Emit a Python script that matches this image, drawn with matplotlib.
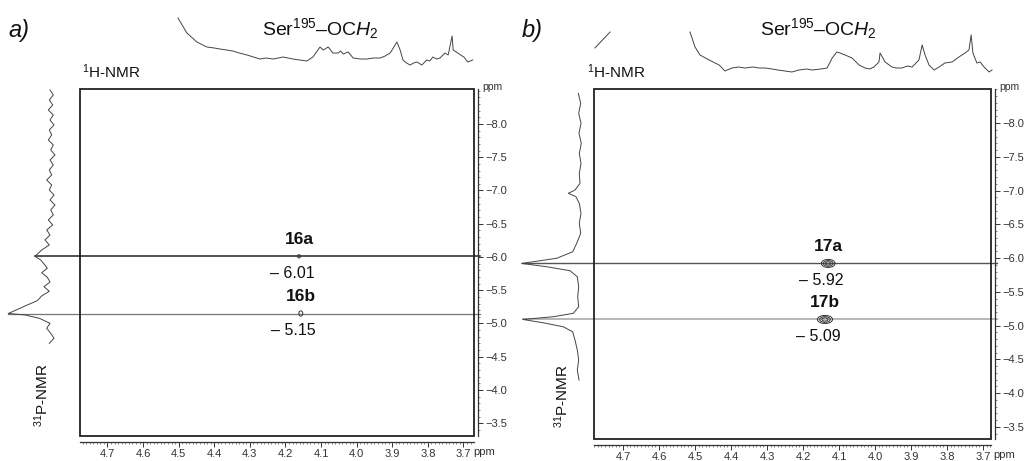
import matplotlib
matplotlib.use('Agg')
import matplotlib.pyplot as plt
from matplotlib.patches import Rectangle, Ellipse
from matplotlib.ticker import MultipleLocator, FormatStrFormatter, FuncFormatter

plt.rcParams['font.family'] = ['Liberation Sans', 'DejaVu Sans']
plt.rcParams['mathtext.fontset'] = 'custom'
plt.rcParams['mathtext.rm'] = 'Liberation Sans'
plt.rcParams['mathtext.it'] = 'Liberation Sans:italic'
plt.rcParams['mathtext.bf'] = 'Liberation Sans:bold'

# ---------------- data ----------------
# panel a: 1H projection (ppm, intensity a.u.)
h1_a_ppm = [4.502, 4.477, 4.449, 4.421, 4.400, 4.384, 4.365, 4.348, 4.330, 4.308,
            4.290, 4.272, 4.255, 4.235, 4.220, 4.207, 4.193, 4.179, 4.160, 4.140,
            4.123, 4.103, 4.094, 4.080, 4.067, 4.052, 4.045, 4.038, 4.024, 4.010,
            3.990, 3.971, 3.952, 3.934, 3.920, 3.906, 3.887, 3.878, 3.870, 3.860,
            3.850, 3.840, 3.831, 3.817, 3.803, 3.795, 3.786, 3.775, 3.766, 3.752,
            3.743, 3.732, 3.729, 3.716, 3.708, 3.699, 3.688, 3.674]
h1_a_int = [52, 37, 28, 23, 22, 21, 20, 19, 17, 15,
            13, 11, 12, 11, 12, 13, 12, 11, 10, 9,
            13, 23, 20, 23, 17, 17, 19, 16, 18, 12,
            11, 11, 12, 12, 14, 17, 28, 20, 10, 7,
            5, 7, 8, 5, 10, 9, 13, 11, 12, 17,
            15, 34, 20, 17, 15, 13, 8, 10]

# panel a: 31P projection (ppm, intensity a.u.)
p31_a_ppm = [-8.511, -8.436, -8.361, -8.286, -8.211, -8.135, -8.060, -7.985, -7.910, -7.835,
             -7.759, -7.684, -7.609, -7.534, -7.459, -7.383, -7.308, -7.233, -7.158, -7.083,
             -7.008, -6.932, -6.857, -6.782, -6.707, -6.632, -6.556, -6.481, -6.406, -6.331,
             -6.256, -6.180, -6.105, -6.010, -5.955, -5.895, -5.830, -5.764, -5.695, -5.624,
             -5.553, -5.484, -5.414, -5.343, -5.274, -5.150, -5.128, -5.078, -5.003, -4.928,
             -4.853, -4.778, -4.702]
p31_a_int = [10.0, 6.7, 10.7, 7.3, 11.7, 6.7, 10.0, 6.0, 10.7, 8.3,
             11.7, 6.7, 9.3, 5.0, 10.0, 6.7, 10.7, 8.3, 13.3, 8.3,
             10.7, 6.0, 10.0, 5.0, 9.3, 6.7, 11.7, 7.3, 13.3, 10.0,
             15.0, 10.7, 18.3, 25.0, 19.3, 16.0, 12.7, 18.3, 12.7, 10.0,
             16.0, 10.7, 18.3, 22.7, 33.3, 51.7, 35.0, 20.7, 10.0, 13.3,
             9.3, 6.0, 10.7]

# panel b: 1H projection
h1_b_ppm = [4.514, 4.500, 4.486, 4.461, 4.433, 4.417, 4.397, 4.380, 4.361, 4.340,
            4.322, 4.305, 4.286, 4.270, 4.250, 4.231, 4.211, 4.190, 4.175, 4.150,
            4.133, 4.119, 4.106, 4.097, 4.083, 4.064, 4.044, 4.028, 4.015, 4.003,
            3.989, 3.986, 3.978, 3.972, 3.953, 3.940, 3.925, 3.910, 3.897, 3.878,
            3.869, 3.861, 3.850, 3.836, 3.822, 3.806, 3.786, 3.767, 3.750, 3.739,
            3.733, 3.728, 3.717, 3.708, 3.697, 3.683, 3.675]
h1_b_int = [48, 33, 25, 20, 15, 9, 12, 13, 12, 13,
            12, 12, 11, 10, 9, 8, 10, 11, 10, 11,
            12, 22, 28, 27, 25, 22, 15, 12, 11, 13,
            18, 27, 22, 18, 13, 12, 12, 14, 13, 20,
            35, 25, 15, 10, 13, 17, 18, 23, 27, 30,
            45, 27, 17, 18, 13, 8, 10]
h1_b_edge_ppm = [4.778, 4.736]
h1_b_edge_int = [32, 48]

# panel b: 31P projection
p31_b_ppm = [-8.440, -8.292, -8.144, -7.996, -7.847, -7.699, -7.551, -7.403, -7.255, -7.107,
             -7.007, -6.959, -6.908, -6.810, -6.662, -6.514, -6.366, -6.218, -6.093, -5.996,
             -5.920, -5.871, -5.812, -5.723, -5.575, -5.427, -5.279, -5.181, -5.130, -5.090,
             -5.041, -4.981, -4.907, -4.785, -4.637, -4.489, -4.341, -4.193]
p31_b_int = [6.7, 4.3, 6.3, 4.0, 6.0, 3.7, 5.7, 4.0, 5.7, 5.0,
             10.0, 16.7, 9.0, 5.7, 4.0, 5.7, 4.3, 8.3, 12.3, 28.3,
             63.3, 38.3, 15.0, 7.7, 6.3, 7.3, 6.3, 11.7, 31.7, 62.3,
             41.7, 21.7, 12.3, 10.0, 7.7, 6.3, 7.7, 6.0]

# cross peaks: label, 1H ppm, 31P ppm, width (ppm), height (ppm)
peaks_a_lbl = ['16a', '16b']
peaks_a_h = [4.162, 4.157]
peaks_a_p = [-6.01, -5.15]
peaks_a_w = [0.008, 0.011]
peaks_a_ht = [0.05, 0.08]

peaks_b_lbl = ['17a', '17b']
peaks_b_h = [4.130, 4.139]
peaks_b_p = [-5.92, -5.09]
peaks_b_w = [0.038, 0.042]
peaks_b_ht = [0.12, 0.12]

x_ticks = [4.7, 4.6, 4.5, 4.4, 4.3, 4.2, 4.1, 4.0, 3.9, 3.8, 3.7]
y_ticks = [-8.0, -7.5, -7.0, -6.5, -6.0, -5.5, -5.0, -4.5, -4.0, -3.5]

# ---------------- figure ----------------
W, H = 1024, 461
fig = plt.figure(figsize=(W / 100, H / 100), dpi=100)


def px_axes(x0, y0, x1, y1):
    a = fig.add_axes([x0 / W, (H - y1) / H, (x1 - x0) / W, (y1 - y0) / H])
    a.patch.set_alpha(0)
    return a


minus_fmt = FuncFormatter(lambda v, pos: ('%.1f' % v).replace('-', '\u2212'))

panels = [
    dict(frame=(80, 89, 474, 436), xlim=(4.7772, 3.6705), ylim=(-3.308, -8.526),
         top=(80, 10, 474, 70), left=(0, 89, 60, 436), left_max=60,
         h_ppm=h1_a_ppm, h_int=h1_a_int, p_ppm=p31_a_ppm, p_int=p31_a_int,
         lbl=peaks_a_lbl, ph=peaks_a_h, pp=peaks_a_p, pw=peaks_a_w, pht=peaks_a_ht,
         line_cols=['#222222', '#777777'], line_w=[1.1, 0.9], levels=[1.0],
         tag='a)', tag_xy=(8, 30), title_xy=(320, 29), h1_xy=(82, 72), p31_xy=(42, 395)),
    dict(frame=(594, 89, 991, 439), xlim=(4.7806, 3.6778), ylim=(-3.319, -8.504),
         top=(594, 20, 991, 80), left=(520, 89, 585, 439), left_max=65,
         h_ppm=h1_b_ppm, h_int=h1_b_int, p_ppm=p31_b_ppm, p_int=p31_b_int,
         lbl=peaks_b_lbl, ph=peaks_b_h, pp=peaks_b_p, pw=peaks_b_w, pht=peaks_b_ht,
         line_cols=['#555555', '#aaaaaa'], line_w=[1.0, 1.2], levels=[1.0, 0.7, 0.4],
         tag='b)', tag_xy=(522, 30), title_xy=(818, 29), h1_xy=(587, 72), p31_xy=(562, 396)),
]

for i, P in enumerate(panels):
    fx0, fy0, fx1, fy1 = P['frame']
    ax = px_axes(fx0, fy0, fx1, fy1)
    ax.set_xlim(*P['xlim'])
    ax.set_ylim(*P['ylim'])
    ax.add_patch(Rectangle((0, 0), 1, 1, transform=ax.transAxes, fill=False,
                           lw=1.3, ec='#222222', clip_on=False, zorder=3))
    ax.spines['left'].set_visible(False)
    ax.spines['top'].set_visible(False)
    ax.spines['right'].set_position(('outward', 3))
    ax.spines['bottom'].set_position(('outward', 4))
    for s in ('right', 'bottom'):
        ax.spines[s].set_linewidth(0.9)
        ax.spines[s].set_color('#333333')
    ax.yaxis.tick_right()
    ax.xaxis.tick_bottom()
    ax.set_xticks(x_ticks)
    ax.set_yticks(y_ticks)
    ax.xaxis.set_major_formatter(FormatStrFormatter('%.1f'))
    ax.yaxis.set_major_formatter(minus_fmt)
    ax.xaxis.set_minor_locator(MultipleLocator(0.01))
    ax.yaxis.set_minor_locator(MultipleLocator(0.1))
    ax.tick_params(which='major', direction='out', length=3.5, width=0.7,
                   labelsize=8, colors='#333333', pad=2)
    ax.tick_params(which='minor', direction='out', length=1.5, width=0.5, colors='#555555')
    # "ppm" unit labels
    ax.annotate('ppm', xy=(1, 1), xycoords='axes fraction', xytext=(8, 2),
                textcoords='offset pixels', fontsize=7.5, color='#333333',
                ha='left', va='center')
    ax.annotate('ppm', xy=(x_ticks[-1], 0), xycoords=('data', 'axes fraction'),
                xytext=(10, -16), textcoords='offset pixels', fontsize=8,
                color='#333333', ha='left', va='center')

    # horizontal correlation lines from the 31P peak tips to the right axis
    lw_px = P['left'][2] - P['left'][0]
    for yv, c, lwv in zip(P['pp'], P['line_cols'], P['line_w']):
        idx = min(range(len(P['p_ppm'])), key=lambda j: abs(P['p_ppm'][j] - yv))
        tip_px = P['left'][2] - P['p_int'][idx] * lw_px / P['left_max']
        xmin = (tip_px - fx0) / (fx1 - fx0)
        xmax = (fx1 + 6 - fx0) / (fx1 - fx0)
        ax.axhline(yv, xmin=xmin, xmax=xmax, color=c, lw=lwv, clip_on=False, zorder=2)

    # cross peaks and labels
    for lbl, xh, yp, w, h in zip(P['lbl'], P['ph'], P['pp'], P['pw'], P['pht']):
        for lev in P['levels']:
            ax.add_patch(Ellipse((xh, yp), w * lev, h * lev, fill=False,
                                 ec='#333333', lw=0.7, zorder=4))
        ax.annotate(lbl, xy=(xh, yp), xytext=(0, 17), textcoords='offset pixels',
                    ha='center', va='center', fontsize=12.5, fontweight='bold', color='#111111')
        ax.annotate('\u2013 %.2f' % abs(yp), xy=(xh, yp), xytext=(-7, -17),
                    textcoords='offset pixels', ha='center', va='center',
                    fontsize=11.5, color='#111111')

    # top 1H projection
    tx0, ty0, tx1, ty1 = P['top']
    at = px_axes(tx0, ty0, tx1, ty1)
    at.set_xlim(*P['xlim'])
    at.set_ylim(0, 60)
    at.plot(P['h_ppm'], P['h_int'], color='#444444', lw=0.7, clip_on=False)
    if i == 1:
        at.plot(h1_b_edge_ppm, h1_b_edge_int, color='#444444', lw=0.7, clip_on=False)
    at.axis('off')

    # left 31P projection
    lx0, ly0, lx1, ly1 = P['left']
    al = px_axes(lx0, ly0, lx1, ly1)
    al.set_xlim(P['left_max'], 0)
    al.set_ylim(*P['ylim'])
    al.plot(P['p_int'], P['p_ppm'], color='#444444', lw=0.7, clip_on=False)
    al.axis('off')

    # texts
    fig.text(P['tag_xy'][0] / W, 1 - P['tag_xy'][1] / H, P['tag'], fontsize=17,
             style='italic', ha='left', va='center', color='#111111')
    fig.text(P['title_xy'][0] / W, 1 - P['title_xy'][1] / H,
             r'Ser$^{195}$–OC$\mathit{H}_{\mathit{2}}$', fontsize=14,
             ha='center', va='center', color='#111111')
    fig.text(P['h1_xy'][0] / W, 1 - P['h1_xy'][1] / H, r'$^{1}$H-NMR', fontsize=11,
             ha='left', va='center', color='#111111')
    fig.text(P['p31_xy'][0] / W, 1 - P['p31_xy'][1] / H, r'$^{31}$P-NMR', fontsize=11,
             ha='center', va='center', rotation=90, color='#111111')

fig.savefig('out.png', dpi=100, facecolor='white')
